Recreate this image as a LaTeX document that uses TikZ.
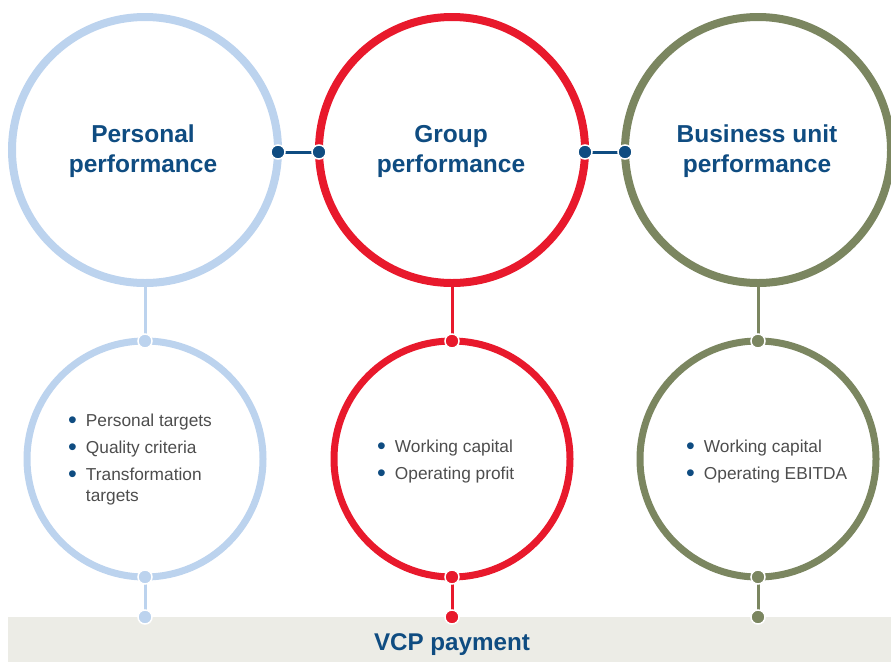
\documentclass[tikz,border=0pt]{standalone}
\usepackage{fontspec}
\setmainfont{Liberation Sans}
\definecolor{lblue}{HTML}{BCD3EE}
\definecolor{vred}{HTML}{E8192C}
\definecolor{olive}{HTML}{7B8660}
\definecolor{navy}{HTML}{0F4C81}
\definecolor{txtgray}{HTML}{4D4D4D}
\definecolor{barbg}{HTML}{ECECE6}
\tikzset{
  ring/.style={circle, draw=#1, line width=8pt, minimum size=266pt, inner sep=0pt, outer sep=0pt},
  sring/.style={circle, draw=#1, line width=7pt, minimum size=236pt, inner sep=0pt, outer sep=0pt},
  dot/.style={circle, fill=#1, draw=white, line width=1.5pt, minimum size=14pt, inner sep=0pt, outer sep=0pt},
  link/.style={draw=#1, line width=3pt},
  title/.style={align=center, text=navy, font=\fontsize{24.5}{30}\selectfont\bfseries},
  blist/.style={anchor=north west, inner sep=0pt, text=txtgray, font=\fontsize{17.3}{21}\selectfont},
}
\newcommand{\bul}{{\color{navy}\fontsize{25}{21}\selectfont\raisebox{-1.2pt}{\textbullet}}}
\begin{document}
\begin{tikzpicture}[x=1pt,y=-1pt]
\useasboundingbox (0,0) rectangle (891,662);
% bar
\node[fill=barbg, minimum width=883pt, minimum height=45pt, inner sep=0pt, outer sep=0pt] (bar) at (449.5,639.5) {};
\node[text=navy, font=\fontsize{24.2}{26}\selectfont\bfseries] (bartxt) at (452,645) {VCP payment};
% top rings
\node[ring=lblue] (p1) at (145,150) {};
\node[ring=vred] (p2) at (452,150) {};
\node[ring=olive] (p3) at (758,150) {};
% bottom rings
\node[sring=lblue] (b1) at (145,459) {};
\node[sring=vred] (b2) at (452,459) {};
\node[sring=olive] (b3) at (758,459) {};
% titles
\node[title] (t1) at (143,151) {Personal\\performance};
\node[title] (t2) at (451,151) {Group\\performance};
\node[title] (t3) at (757,151) {Business unit\\performance};
% horizontal links
\coordinate (h1a) at (p1.east |- 0,152);
\coordinate (h1b) at (p2.west |- 0,152);
\coordinate (h2a) at (p2.east |- 0,152);
\coordinate (h2b) at (p3.west |- 0,152);
\draw[link=navy] (h1a) -- (h1b);
\draw[link=navy] (h2a) -- (h2b);
\node[dot=navy] (hd1) at (h1a) {};
\node[dot=navy] (hd2) at (h1b) {};
\node[dot=navy] (hd3) at (h2a) {};
\node[dot=navy] (hd4) at (h2b) {};
% vertical links
\foreach \i/\c in {1/lblue,2/vred,3/olive}{
  \draw[link=\c] (p\i.south) -- (b\i.north);
  \coordinate (e\i) at (b\i.south |- bar.north);
  \draw[link=\c] (b\i.south) -- (e\i);
  \node[dot=\c] (n\i) at (b\i.north) {};
  \node[dot=\c] (s\i) at (b\i.south) {};
  \node[dot=\c] (k\i) at (e\i) {};
}
% bullet lists
\node[blist] (l1) at (68,412) {\begin{tabular}{@{}l@{\hspace{9pt}}l@{}}
\bul & Personal targets\\[6pt]
\bul & Quality criteria\\[6pt]
\bul & Transformation\\
 & targets
\end{tabular}};
\node[blist] (l2) at (377,438) {\begin{tabular}{@{}l@{\hspace{9pt}}l@{}}
\bul & Working capital\\[6pt]
\bul & Operating profit
\end{tabular}};
\node[blist] (l3) at (686,438) {\begin{tabular}{@{}l@{\hspace{9pt}}l@{}}
\bul & Working capital\\[6pt]
\bul & Operating EBITDA
\end{tabular}};
\end{tikzpicture}
\end{document}
